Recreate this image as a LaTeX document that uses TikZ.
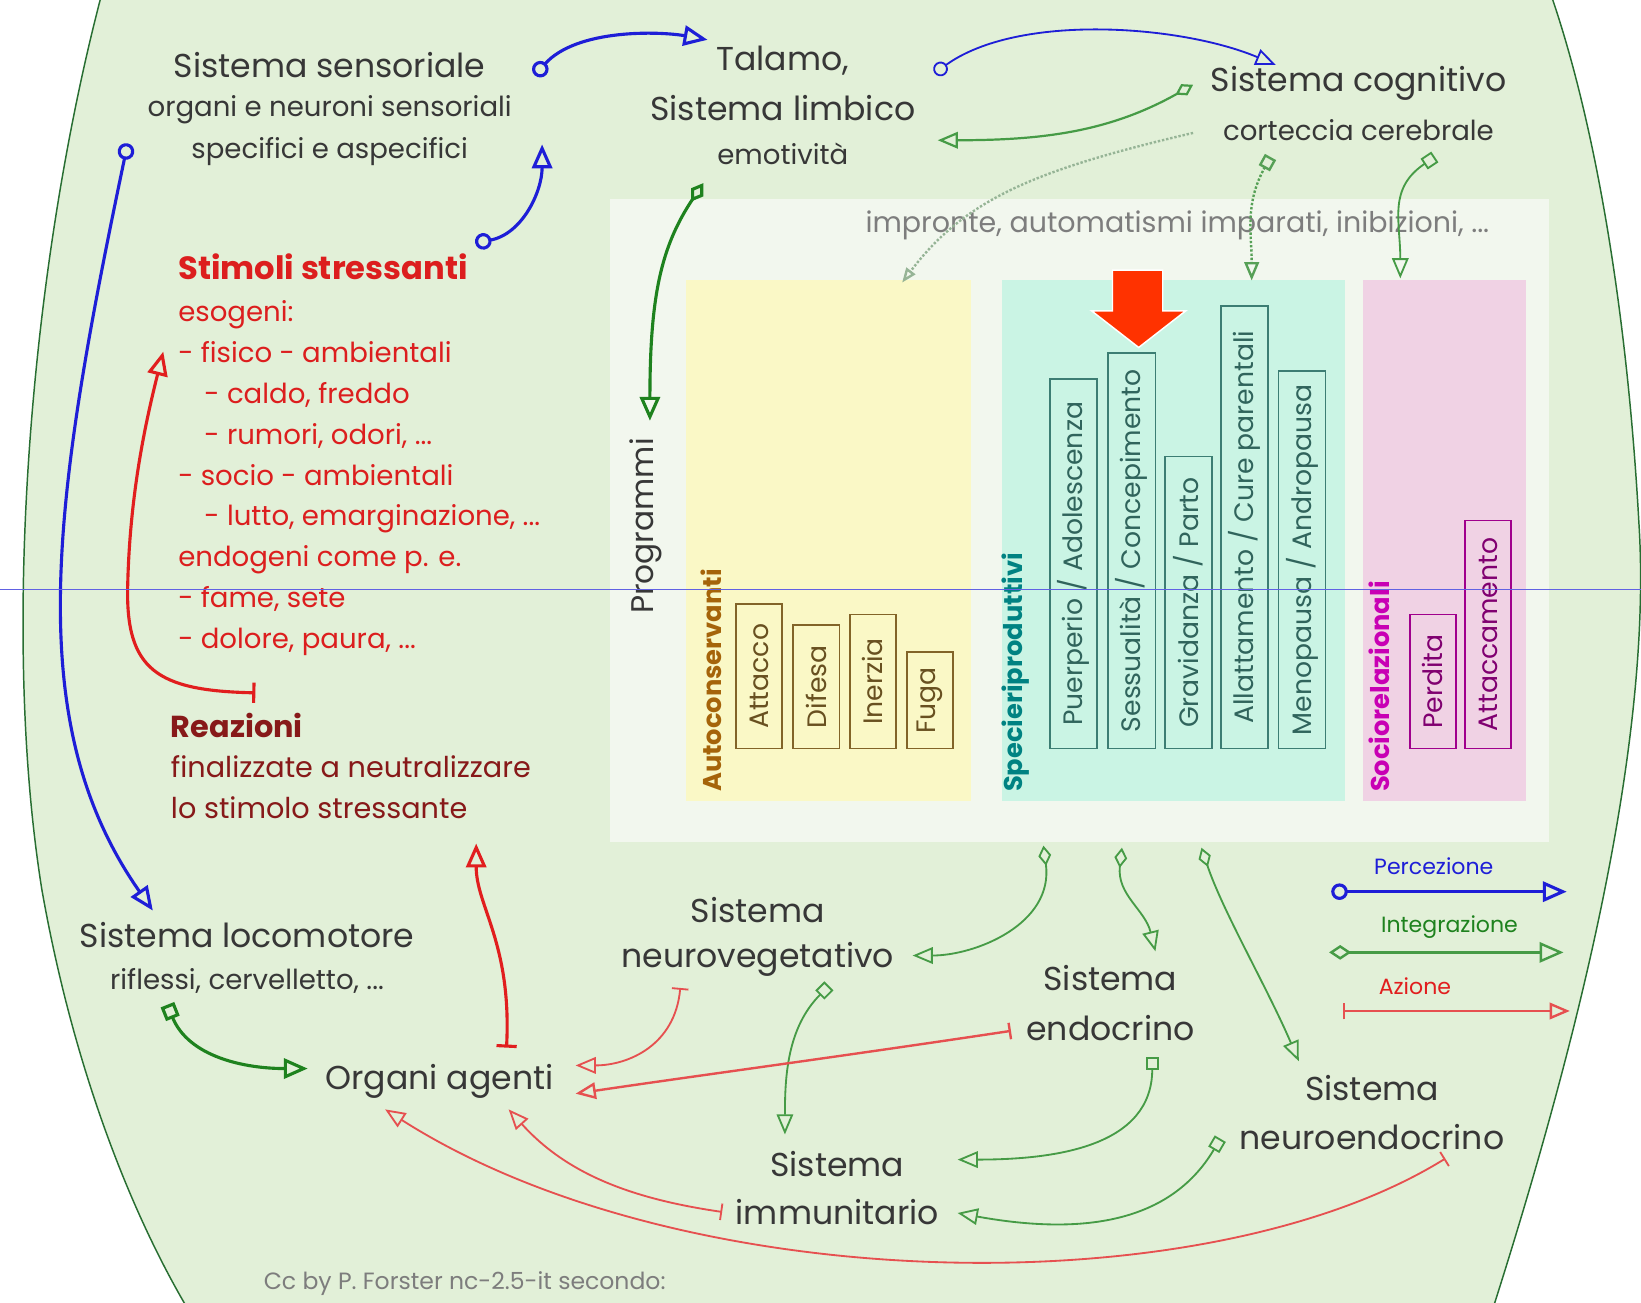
\documentclass[tikz,border=0pt]{standalone}
\usepackage{fontspec}
\setmainfont{Poppins}
\usetikzlibrary{arrows.meta}

\definecolor{cellfill}{RGB}{226,240,216}
\definecolor{cellline}{RGB}{40,110,50}
\definecolor{panel}{RGB}{242,247,238}
\definecolor{ink}{RGB}{55,55,55}
\definecolor{softgray}{RGB}{125,125,125}
\definecolor{ybox}{RGB}{250,248,198}
\definecolor{cbox}{RGB}{202,244,228}
\definecolor{pbox}{RGB}{240,210,228}
\definecolor{autoc}{RGB}{165,100,10}
\definecolor{autob}{RGB}{130,100,40}
\definecolor{specc}{RGB}{0,130,130}
\definecolor{specb}{RGB}{60,125,115}
\definecolor{socc}{RGB}{200,0,180}
\definecolor{socb}{RGB}{160,0,140}
\definecolor{stimred}{RGB}{220,30,30}
\definecolor{reazred}{RGB}{135,25,25}
\definecolor{percblue}{RGB}{30,30,215}
\definecolor{intgreen}{RGB}{30,130,30}
\definecolor{intlight}{RGB}{70,155,70}
\definecolor{dotgreen}{RGB}{150,180,150}
\definecolor{actred}{RGB}{225,30,30}
\definecolor{actlight}{RGB}{230,80,80}
\definecolor{bigarrow}{RGB}{255,50,0}

\newcommand\fsz[2]{\fontsize{#1}{#2}\selectfont}

\tikzset{
  big/.style={text=ink, font=\fsz{18}{22}, inner sep=0pt},
  mid/.style={text=ink, font=\fsz{15}{18}, inner sep=0pt},
  perc/.style={draw=percblue, line width=1.7pt,
    arrows={Circle[open,length=9pt]-Triangle[open,length=13pt,width=11pt]}},
  percthin/.style={draw=percblue, line width=1pt,
    arrows={Circle[open,length=8pt]-Triangle[open,length=11pt,width=9pt]}},
  integ/.style={draw=intgreen, line width=1.7pt,
    arrows={Diamond[open,length=12pt,width=8pt]-Triangle[open,length=13pt,width=11pt]}},
  integsq/.style={draw=intgreen, line width=1.7pt,
    arrows={Square[open,length=8pt]-Triangle[open,length=13pt,width=11pt]}},
  integthin/.style={draw=intlight, line width=1pt,
    arrows={Diamond[open,length=11pt,width=7pt]-Triangle[open,length=11pt,width=9pt]}},
  integthinsq/.style={draw=intlight, line width=1pt,
    arrows={Square[open,length=7pt]-Triangle[open,length=11pt,width=9pt]}},
  integdot/.style={draw=dotgreen, line width=1.3pt, densely dotted,
    arrows={Square[open,length=7pt,sep=0pt]-Triangle[open,length=10pt,width=8pt]}},
  actthick/.style={draw=actred, line width=1.7pt,
    arrows={Bar[width=11pt]-Triangle[open,length=13pt,width=11pt]}},
  actthin/.style={draw=actlight, line width=1pt,
    arrows={Bar[width=9pt]-Triangle[open,length=11pt,width=9pt]}},
  vlabel/.style={rotate=90, anchor=west, inner sep=0pt},
  progbox/.style={rotate=90, anchor=west, draw, line width=0.9pt, inner sep=0pt,
    font=\fsz{14.5}{16}},
}

\begin{document}
\begin{tikzpicture}[x=0.02cm,y=-0.02cm]
\useasboundingbox (0,0) rectangle (1568,1245);
\fill[white] (0,0) rectangle (1568,1245);

% the cell that holds everything
\fill[cellfill] (97,-5) .. controls (30,250) and (0,600) .. (40,850)
  .. controls (70,1020) and (125,1160) .. (182,1255) -- (1425,1255)
  .. controls (1500,1020) and (1580,720) .. (1566,500)
  .. controls (1555,300) and (1525,120) .. (1482,-5) -- cycle;
\draw[cellline, line width=0.8pt] (97,-5) .. controls (30,250) and (0,600) .. (40,850)
  .. controls (70,1020) and (125,1160) .. (182,1255);
\draw[cellline, line width=0.8pt] (1425,1255)
  .. controls (1500,1020) and (1580,720) .. (1566,500)
  .. controls (1555,300) and (1525,120) .. (1482,-5);

% programmes panel
\fill[panel] (583,190) rectangle (1480,805);
\fill[ybox] (655,268) rectangle (928,765);
\fill[cbox] (957,268) rectangle (1285,765);
\fill[pbox] (1302,268) rectangle (1458,765);

\node[vlabel, text=ink, font=\fsz{17}{20}] (prog) at (617,587) {Programmi};
\node[text=softgray, font=\fsz{15.5}{18}, inner sep=0pt] (impr) at (1125,215)
  {impronte, automatismi imparati, inibizioni, ...};

% self-preservation programmes
\node[vlabel, text=autoc, font=\bfseries\fsz{14}{16}] (autoc) at (680,757) {Autoconservanti};
\begin{scope}[every node/.style={progbox, draw=autob, text=autob!80!black, minimum height=0.88cm}]
  \node[minimum width=2.76cm] (att) at (725.5,716) {Attacco};
  \node[minimum width=2.36cm] (dif) at (780,716) {Difesa};
  \node[minimum width=2.56cm] (ine) at (834,716) {Inerzia};
  \node[minimum width=1.84cm] (fug) at (888.5,716) {Fuga};
\end{scope}

% reproductive programmes
\node[vlabel, text=specc, font=\bfseries\fsz{14}{16}] (spec) at (970,757) {Specieriproduttivi};
\begin{scope}[every node/.style={progbox, draw=specb, text=specb!80!black, minimum height=0.9cm}]
  \node[minimum width=7.06cm] (pue) at (1025.5,716) {Puerperio / Adolescenza};
  \node[minimum width=7.56cm] (ses) at (1081.5,716) {Sessualità / Concepimento};
  \node[minimum width=5.58cm] (gra) at (1135.5,716) {Gravidanza / Parto};
  \node[minimum width=8.46cm] (all) at (1189,716) {Allattamento / Cure parentali};
  \node[minimum width=7.22cm] (men) at (1244,716) {Menopausa / Andropausa};
\end{scope}

% social programmes
\node[vlabel, text=socc, font=\bfseries\fsz{14}{16}] (soc) at (1318,757) {Sociorelazionali};
\begin{scope}[every node/.style={progbox, draw=socb, text=socb!80!black, minimum height=0.88cm}]
  \node[minimum width=2.56cm] (per) at (1369,716) {Perdita};
  \node[minimum width=4.36cm] (atc) at (1422,716) {Attaccamento};
\end{scope}

% marker arrow
\filldraw[fill=bigarrow, draw=white, line width=0.8pt]
  (1063,258) -- (1111,258) -- (1111,297) -- (1133,297) -- (1088,332)
  -- (1043,297) -- (1063,297) -- cycle;

% system labels
\node[big] (sens) at (315,62) {Sistema sensoriale};
\node[mid] (sens2) at (315,105) {organi e neuroni sensoriali};
\node[mid] (sens3) at (315,145) {specifici e aspecifici};
\node[big] (tal1) at (748,58) {Talamo,};
\node[big] (tal2) at (748,103) {Sistema limbico};
\node[mid] (tal3) at (748,147) {emotività};
\node[big] (cog1) at (1298,80) {Sistema cognitivo};
\node[mid] (cog2) at (1298,124) {corteccia cerebrale};
\node[big] (loc1) at (236,893) {Sistema locomotore};
\node[mid] (loc2) at (236,937) {riflessi, cervelletto, ...};
\node[big] (org) at (420,1033) {Organi agenti};
\node[big] (nv1) at (724,870) {Sistema};
\node[big] (nv2) at (724,917) {neurovegetativo};
\node[big] (en1) at (1061,935) {Sistema};
\node[big] (en2) at (1061,982) {endocrino};
\node[big] (im1) at (800,1112) {Sistema};
\node[big] (im2) at (800,1158) {immunitario};
\node[big] (ne1) at (1311,1040) {Sistema};
\node[big] (ne2) at (1311,1086) {neuroendocrino};
\node[text=softgray, font=\fsz{12.8}{15}, inner sep=0pt] (credit) at (444,1226)
  {Cc by P. Forster nc-2.5-it secondo:};

% stressors
\node[text=stimred, font=\bfseries\fsz{17.5}{20}, anchor=west, inner sep=0pt] (stim) at (170,255)
  {Stimoli stressanti};
\node[text=stimred, font=\fsz{15}{22.2}, anchor=north west, align=left, inner sep=0pt] (stimlist) at (170,287)
  {esogeni:\\
   - fisico - ambientali\\
   \hspace*{0.5cm}- caldo, freddo\\
   \hspace*{0.5cm}- rumori, odori, ...\\
   - socio - ambientali\\
   \hspace*{0.5cm}- lutto, emarginazione, ...\\
   endogeni come p. e.\\
   - fame, sete\\
   - dolore, paura, ...};
\node[text=reazred, font=\bfseries\fsz{16.5}{20}, anchor=west, inner sep=0pt] (reaz) at (163,693) {Reazioni};
\node[text=reazred, font=\fsz{15.6}{22.2}, anchor=north west, align=left, inner sep=0pt] (reaz2) at (163,722)
  {finalizzate a neutralizzare\\lo stimolo stressante};

% legend
\node[text=percblue, font=\fsz{12}{14}, inner sep=0pt] (lgp) at (1370,828) {Percezione};
\node[text=intgreen, font=\fsz{12}{14}, inner sep=0pt] (lgi) at (1385,886) {Integrazione};
\node[text=actred, font=\fsz{12}{14}, inner sep=0pt] (lga) at (1352,942) {Azione};
\coordinate (lgp0) at (1272,852); \coordinate (lgp1) at (1497,852);
\coordinate (lgi0) at (1270,910); \coordinate (lgi1) at (1494,910);
\coordinate (lga0) at (1283,966); \coordinate (lga1) at (1500,966);
\draw[perc] (lgp0) -- (lgp1);
\draw[integ, draw=intlight, line width=1.3pt] (lgi0) -- (lgi1);
\draw[actthin, line width=1.3pt] (lga0) -- (lga1);

% perception paths
\coordinate (p1a) at (511,72);  \coordinate (p1b) at (676,38);
\draw[perc] (p1a) .. controls +(40,-45) and +(-45,-8) .. (p1b);
\coordinate (p2a) at (454,232); \coordinate (p2b) at (518,138);
\draw[perc] (p2a) .. controls +(45,-8) and +(0,45) .. (p2b);
\coordinate (p3a) at (122,137); \coordinate (p3b) at (146,870);
\draw[perc] (p3a) .. controls (50,480) and (20,690) .. (p3b);
\coordinate (p4a) at (893,70);  \coordinate (p4b) at (1219,62);
\draw[percthin] (p4a) .. controls +(80,-58) and +(-90,-38) .. (p4b);

% integration paths
\coordinate (i1a) at (1140,81);  \coordinate (i1b) at (896,134);
\draw[integthin, line width=1.2pt] (i1a) .. controls +(-80,45) and +(100,0) .. (i1b);
\coordinate (i2a) at (1140,127); \coordinate (i2b) at (862,270);
\draw[integdot, arrows={-Triangle[open,length=8pt,width=6pt]}] (i2a) .. controls +(-150,35) and +(60,-80) .. (i2b);
\coordinate (i3a) at (1214,150); \coordinate (i3b) at (1196,268);
\draw[integdot, draw=intlight!80!dotgreen] (i3a) .. controls +(-25,45) and +(0,-45) .. (i3b);
\coordinate (i4a) at (1371,150); \coordinate (i4b) at (1338,266);
\draw[integthinsq] (i4a) .. controls +(-45,30) and +(0,-55) .. (i4b);
\coordinate (i5a) at (672,175);  \coordinate (i5b) at (621,402);
\draw[integ] (i5a) .. controls +(-40,60) and +(0,-120) .. (i5b);
\coordinate (i6a) at (997,808);  \coordinate (i6b) at (872,913);
\draw[integthin] (i6a) .. controls +(10,75) and +(60,0) .. (i6b);
\coordinate (i7a) at (1072,810); \coordinate (i7b) at (1104,909);
\draw[integthin] (i7a) .. controls +(-5,45) and +(-10,-40) .. (i7b);
\coordinate (i8a) at (1148,810); \coordinate (i8b) at (1241,1014);
\draw[integthin] (i8a) .. controls +(20,60) and +(-30,-70) .. (i8b);
\coordinate (i9a) at (792,942);  \coordinate (i9b) at (750,1084);
\draw[integthinsq] (i9a) .. controls +(-40,40) and +(0,-55) .. (i9b);
\coordinate (i10a) at (1101,1010); \coordinate (i10b) at (915,1108);
\draw[integthinsq] (i10a) .. controls +(0,85) and +(95,0) .. (i10b);
\coordinate (i11a) at (1166,1088); \coordinate (i11b) at (915,1159);
\draw[integthinsq] (i11a) .. controls +(-50,85) and +(110,20) .. (i11b);
\coordinate (i12a) at (160,960); \coordinate (i12b) at (294,1021);
\draw[integsq] (i12a) .. controls +(20,50) and +(-60,0) .. (i12b);

% action paths
\coordinate (a1a) at (484,1001); \coordinate (a1b) at (455,806);
\draw[actthick] (a1a) .. controls +(5,-100) and +(0,60) .. (a1b);
\coordinate (a2a) at (244,662); \coordinate (a2m) at (122,560); \coordinate (a2b) at (156,336);
\draw[actthick] (a2a) .. controls (150,660) and (120,640) .. (a2m)
  .. controls (124,470) and (140,400) .. (a2b);
\coordinate (a3a) at (650,944); \coordinate (a3b) at (550,1018);
\draw[actthin] (a3a) .. controls +(-5,55) and +(50,0) .. (a3b);
\coordinate (a4a) at (966,985); \coordinate (a4b) at (550,1045);
\draw[actthin, line width=1.3pt] (a4a) .. controls (800,1010) and (650,1030) .. (a4b);
\coordinate (a5a) at (690,1158); \coordinate (a5b) at (486,1060);
\draw[actthin] (a5a) .. controls (600,1145) and (540,1120) .. (a5b);
\coordinate (a6a) at (1381,1107); \coordinate (a6b) at (368,1060);
\draw[actthin] (a6a) .. controls (1150,1250) and (650,1240) .. (a6b);

% scan line across the sheet
\draw[percblue!70, line width=0.4pt] (0,563) -- (1568,563);
\end{tikzpicture}
\end{document}
